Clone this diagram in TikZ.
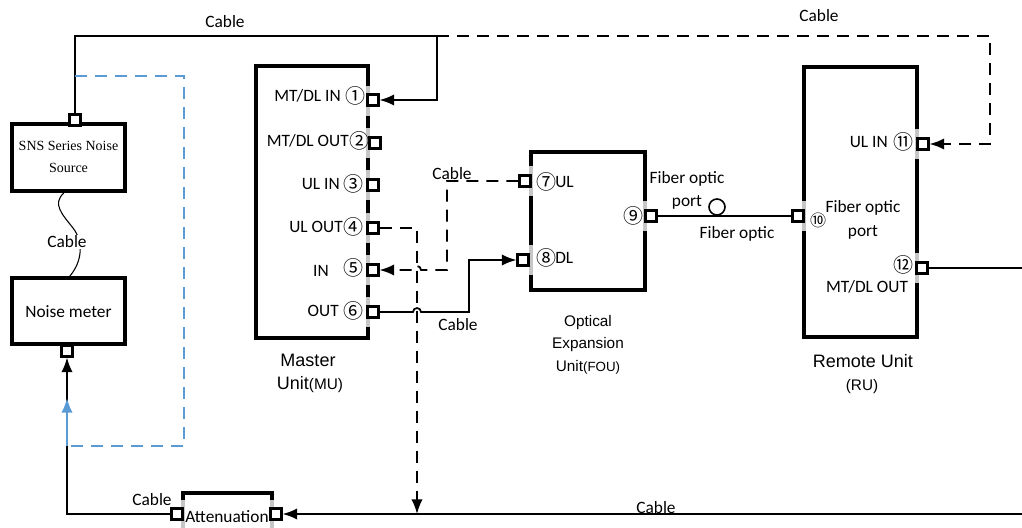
\documentclass[tikz,border=0pt]{standalone}
\usepackage{fontspec}
\setmainfont{Carlito}
\newfontfamily\arialf{Liberation Sans}
\newfontfamily\serf{Liberation Serif}
\newfontfamily\circf{Noto Sans CJK SC}
\usetikzlibrary{arrows.meta,fit}
\definecolor{lblue}{HTML}{5B9BD5}
\tikzset{
 box/.style={draw, line width=2.9pt, inner sep=0pt},
 port/.style={draw, fill=white, line width=1.8pt, minimum size=8pt, inner sep=0pt},
 gbar/.style={draw=gray!45, line width=2.6pt},
 wire/.style={line width=1.3pt},
 dwire/.style={line width=1.3pt, dash pattern=on 9pt off 6pt},
 arr/.style={-{Latex[length=11pt,width=8.5pt]}},
 lbl/.style={font=\fontsize{13}{15}\selectfont, inner sep=0pt},
 num/.style={font=\circf\fontsize{15}{17}\selectfont, inner sep=0pt},
 title/.style={font=\arialf\fontsize{13.5}{16}\selectfont, inner sep=0pt},
 sub/.style={font=\arialf\fontsize{11.5}{16}\selectfont, inner sep=0pt},
}
\begin{document}
\begin{tikzpicture}[x=0.75pt,y=-0.75pt]
\useasboundingbox (0,0) rectangle (1022,528);
\clip (0,0) rectangle (1022,528);
% boxes
\node[box, fit={(12,124)(125,191)}] (sns) {};
\node[box, fit={(12,278)(125,344)}] (nm) {};
\node[box, fit={(256,66)(368,338)}] (mu) {};
\node[box, fit={(531,152)(645,290)}] (fou) {};
\node[box, fit={(804,67)(917,337)}] (ru) {};
\node[box, fit={(183,493)(272,560)}] (att) {};
% grey bars at ports
\foreach \y in {101,143,185,228,270,312} \draw[gbar] (368,\y-15) -- (368,\y+15);
\draw[gbar] (531,166) -- (531,196);
\draw[gbar] (531,245) -- (531,275);
\draw[gbar] (645,201) -- (645,231);
\draw[gbar] (804,201) -- (804,231);
\draw[gbar] (917,129) -- (917,159);
\draw[gbar] (917,253) -- (917,283);
\draw[gbar] (183,500) -- (183,528);
\draw[gbar] (272,500) -- (272,528);
% box texts
\node[font=\serf\fontsize{10.5}{16.5}\selectfont, align=center, inner sep=0pt] (snst) at (68.5,157) {SNS Series Noise\\Source};
\node[lbl] (nmt) at (68.5,312) {Noise meter};
\node[lbl] (attt) at (227,517) {Attenuation};
% ports
\node[port] (snsp) at (75,120) {};
\node[port] (nmp) at (67,351) {};
\node[port] (mu1) at (373,100) {};
\node[port] (mu2) at (375,143) {};
\node[port] (mu3) at (373,185) {};
\node[port] (mu4) at (373,228) {};
\node[port] (mu5) at (373,270) {};
\node[port] (mu6) at (373,312) {};
\node[port] (fou7) at (525,181) {};
\node[port] (fou8) at (523,260) {};
\node[port] (fou9) at (651,216) {};
\node[port] (ru10) at (798,216) {};
\node[port] (ru11) at (923,144) {};
\node[port] (ru12) at (922,268) {};
\node[port] (atl) at (177,514) {};
\node[port] (atr) at (276,514) {};
% MU labels
\node[lbl, anchor=east] at (341,96) {MT/DL IN};
\node[num] at (355,96) {①};
\node[lbl, anchor=east] at (349,141) {MT/DL OUT};
\node[num] at (359,141) {②};
\node[lbl, anchor=east] at (340,184) {UL IN};
\node[num] at (353,184) {③};
\node[lbl, anchor=east] at (343,227) {UL OUT};
\node[num] at (353,227) {④};
\node[lbl, anchor=east] at (329,271) {IN};
\node[num] at (353,268) {⑤};
\node[lbl, anchor=east] at (339,311) {OUT};
\node[num] at (353,311) {⑥};
% FOU labels
\node[num] at (546,182) {⑦};
\node[lbl, anchor=west] at (555,182) {UL};
\node[num] at (546,258) {⑧};
\node[lbl, anchor=west] at (555,258) {DL};
\node[num] at (633,216) {⑨};
% RU labels
\node[lbl, anchor=east] at (888,142) {UL IN};
\node[num] at (903,142) {⑪};
\node[num, font=\circf\fontsize{12}{14}\selectfont] at (818,220) {⑩};
\node[lbl] at (863,208) {Fiber optic};
\node[lbl] at (863,232) {port};
\node[num] at (903,265) {⑫};
\node[lbl] at (867,287) {MT/DL OUT};
% titles
\node[title] at (308,360) {Master};
\node[title] at (310,385) {Unit{\arialf\fontsize{11.5}{14}\selectfont(MU)}};
\node[sub] at (588,323) {Optical};
\node[sub] at (588,345) {Expansion};
\node[sub] at (588,367) {Unit{\fontsize{10}{12}\selectfont(FOU)}};
\node[title] at (863,361) {Remote Unit};
\node[sub] at (862,387) {(RU)};
% connectors
\coordinate (tc) at (437,36);
\coordinate (tr) at (990,36);
\draw[wire,arr] (snsp.north) |- (tc) |- (mu1.east);
\draw[dwire,arr] (tc) -- (tr) |- (ru11.east);
\draw[line width=0.8pt] ([xshift=-3.5pt]sns.south) .. controls (52,204) and (62,214) .. (73,228) .. controls (84,242) and (82,262) .. ([xshift=1pt]nm.north);
\draw[wire,arr] (atl.west) -| (nmp.south);
\draw[lblue, line width=1.3pt, dash pattern=on 9pt off 6pt] (75,76) -- (184,76) -- (184,446) -- (67,446);
\draw[lblue, line width=1.5pt, arr] (67,446) -- (67,398);
\coordinate (hx) at (417,514);
\draw[dwire,arr] (mu4.east) -| (hx);
\draw[dwire,arr] (fou7.west) -- (447,181) -- (447,270) -- (421,270) arc (0:-180:4) -- (mu5.east);
\draw[wire,arr] (mu6.east) -- (413,312) arc (180:360:4) -- (469,312) |- (fou8.west);
\draw[wire] (fou9.east) -- (ru10.west);
\node[draw, circle, line width=1.2pt, minimum size=12pt, inner sep=0pt] (fc) at (717,207) {};
\coordinate (re) at (1022,268);
\draw[wire] (ru12.east) -- (re);
\coordinate (br) at (1022,514);
\draw[wire,arr] (br) -- (atr.east);
% fiber labels
\node[lbl] at (687,179) {Fiber optic};
\node[lbl] at (687,202) {port};
\node[lbl] at (737,234) {Fiber optic};
% cable labels
\node[lbl] at (225,22) {Cable};
\node[lbl] at (819,16) {Cable};
\node[lbl, fill=white, inner sep=0.5pt] at (67,242) {Cable};
\node[lbl] at (452,174) {Cable};
\node[lbl] at (458,325) {Cable};
\node[lbl] at (152,500) {Cable};
\node[lbl] at (656,508) {Cable};
\end{tikzpicture}
\end{document}
